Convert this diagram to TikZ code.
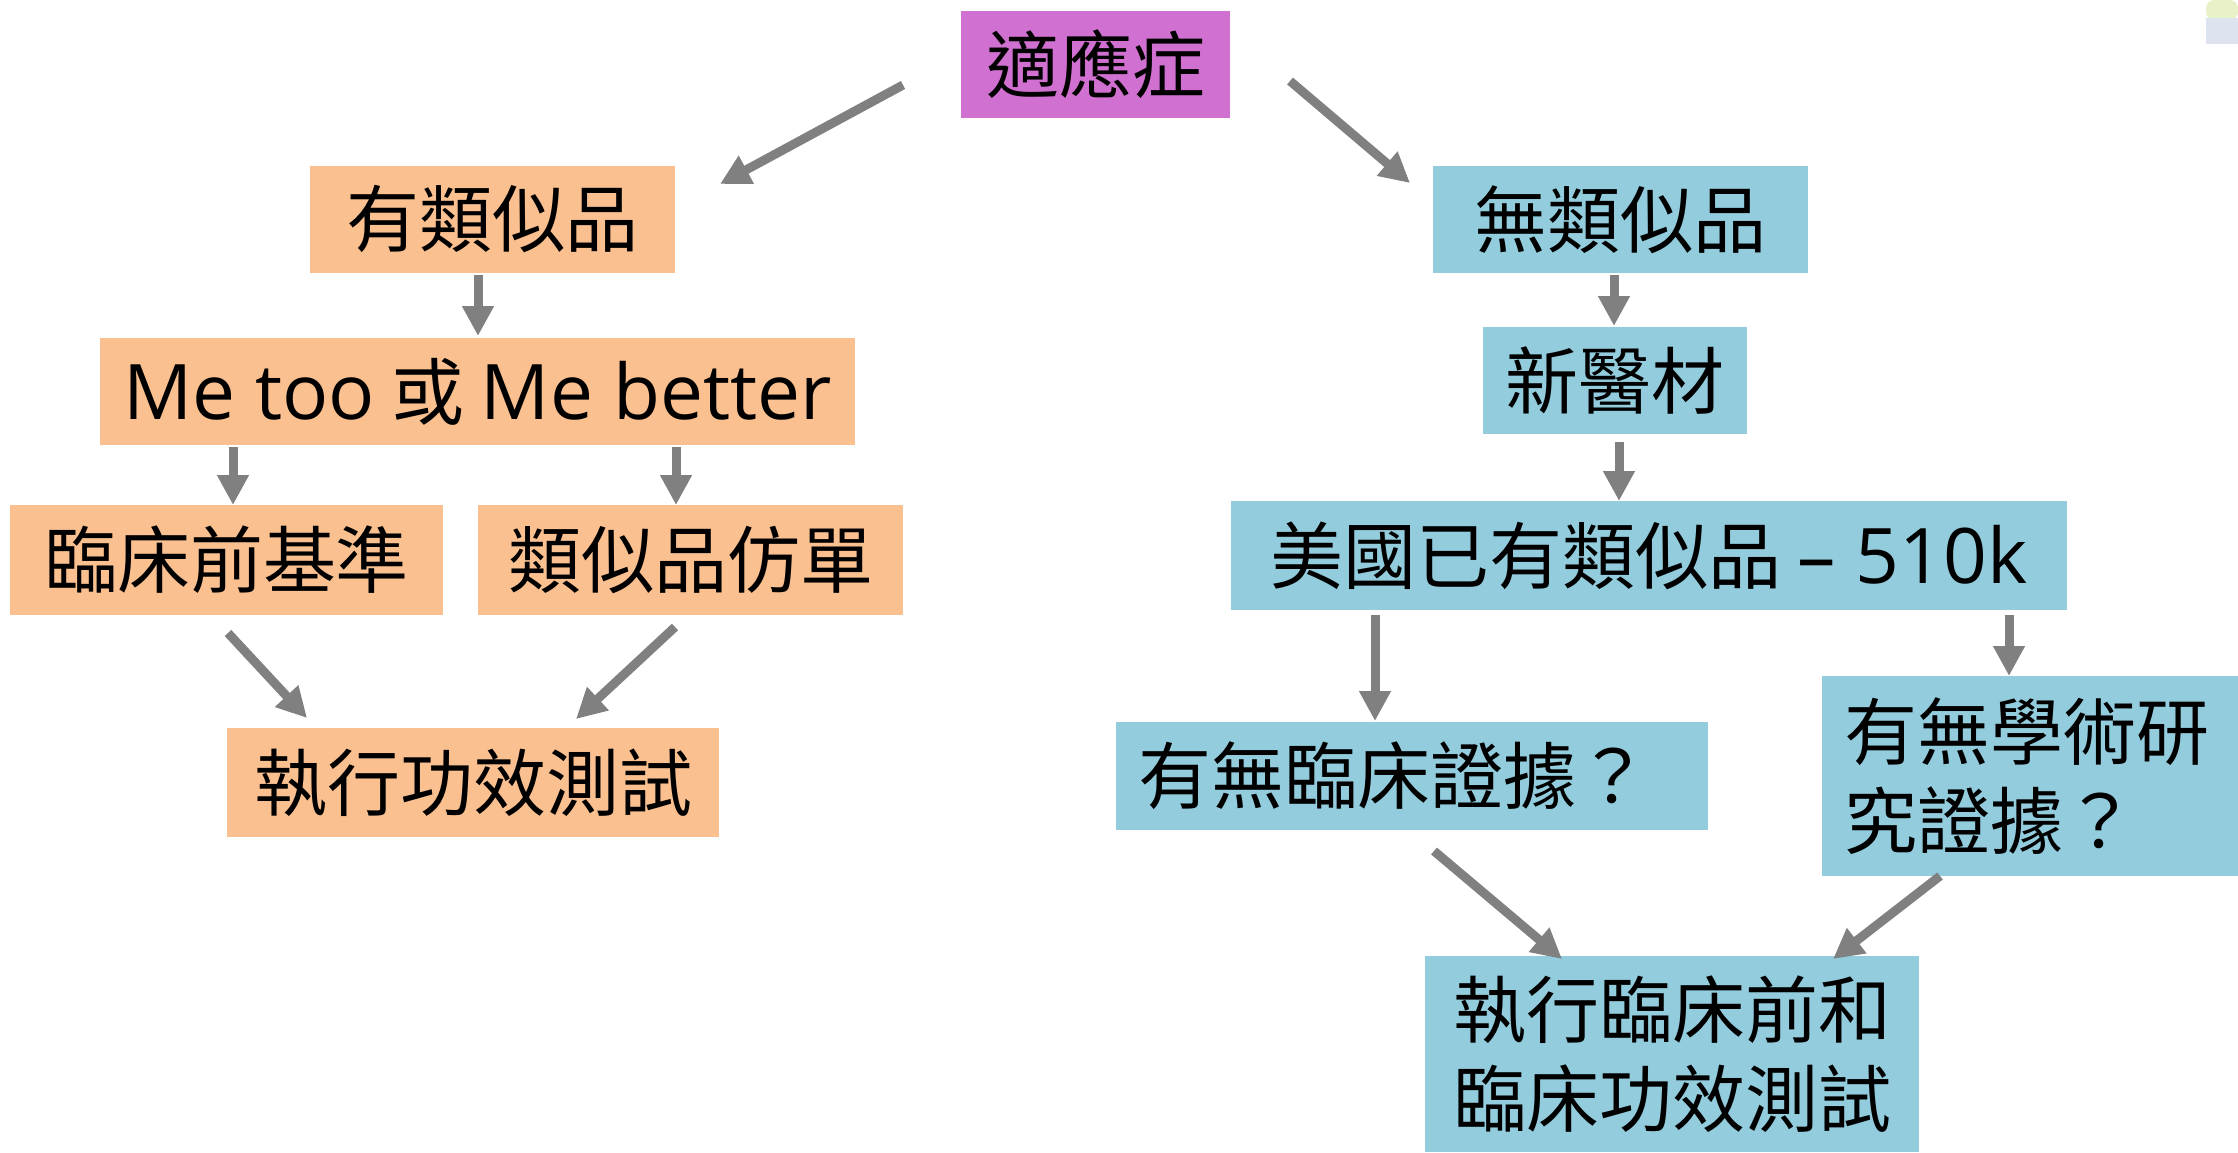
\documentclass[tikz,border=0pt]{standalone}
\usepackage{fontspec}
\setmainfont{Noto Sans CJK TC}
\newfontfamily\lat{Open Sans}[Scale=1.05]
\usetikzlibrary{arrows.meta}
\definecolor{orangebox}{HTML}{FAC090}
\definecolor{bluebox}{HTML}{93CDDD}
\definecolor{purplebox}{HTML}{D070D0}
\definecolor{arrowgray}{HTML}{808080}
\definecolor{decogreen}{HTML}{E8F2C8}
\definecolor{decoblue}{HTML}{DDE4F0}
\begin{document}
\begin{tikzpicture}[x=0.5pt,y=-0.5pt,
  box/.style={inner sep=0pt, outer sep=0pt, font=\fontsize{36.5}{44.5}\selectfont, align=center},
  obox/.style={box, fill=orangebox},
  bbox/.style={box, fill=bluebox},
  arr/.style={draw=arrowgray, line width=4.5pt, -{Triangle[width=15pt,length=15pt]}}]
\useasboundingbox (0,0) rectangle (2238,1152);
% faint corner decoration
\fill[decogreen, rounded corners=4pt] (2206,0) rectangle (2238,20);
\fill[decoblue] (2206,18) rectangle (2238,44);
% left branch
\node[box, fill=purplebox, minimum width=134.5pt, minimum height=53.5pt] (ind) at (1095.5,64.5) {適應症};
\node[obox, minimum width=182.5pt, minimum height=53.5pt] (yes) at (492.5,219.5) {有類似品};
\node[obox, minimum width=377.5pt, minimum height=53.5pt] (me) at (477.5,391.5) {{\lat Me too} 或 {\lat Me better}};
\node[obox, minimum width=216.5pt, minimum height=55pt] (pre) at (226.5,560) {臨床前基準};
\node[obox, minimum width=212.5pt, minimum height=55pt] (lab) at (690.5,560) {類似品仿單};
\node[obox, minimum width=246pt, minimum height=54.5pt] (exe) at (473,782.5) {執行功效測試};
% right branch
\node[bbox, minimum width=187.5pt, minimum height=53.5pt] (no) at (1620.5,219.5) {無類似品};
\node[bbox, minimum width=132pt, minimum height=53.5pt] (new) at (1615,380.5) {新醫材};
\node[bbox, minimum width=418pt, minimum height=54.5pt] (us) at (1649,555.5) {美國已有類似品 {\lat – 510k}};
\node[bbox, minimum width=296pt, minimum height=54pt, text width=274pt, align=left] (clin) at (1412,776) {有無臨床證據？};
\node[bbox, minimum width=208pt, minimum height=100pt, text width=186pt, align=left] (acad) at (2030,776) {有無學術研\\究證據？};
\node[bbox, minimum width=247pt, minimum height=98pt] (exe2) at (1672,1054) {執行臨床前和\\臨床功效測試};
% arrows
\draw[arr] ([shift={(-58,20.5)}]ind.west) -- ([shift={(45,18)}]yes.north east);
\draw[arr] ([shift={(60,16.5)}]ind.east) -- ([shift={(-23,17)}]no.north west);
\draw[arr] ([shift={(-14.5,2)}]yes.south) -- ([shift={(0.5,-2)}]me.north);
\draw[arr] ([shift={(133,2)}]me.south west) -- ([shift={(6.5,0)}]pre.north);
\draw[arr] ([shift={(-179,2)}]me.south east) -- ([shift={(-14.5,0)}]lab.north);
\draw[arr] ([shift={(1.5,18)}]pre.south) -- ([shift={(80,-10)}]exe.north west);
\draw[arr] ([shift={(-15.5,12)}]lab.south) -- ([shift={(-143,-9)}]exe.north east);
\draw[arr] ([shift={(-6.5,2)}]no.south) -- ([shift={(-1,-1)}]new.north);
\draw[arr] ([shift={(4,8)}]new.south) -- ([shift={(-30,0)}]us.north);
\draw[arr] ([shift={(144,5)}]us.south west) -- ([shift={(-37,-1)}]clin.north);
\draw[arr] ([shift={(-58,5)}]us.south east) -- ([shift={(-21,0)}]acad.north);
\draw[arr] ([shift={(22,21)}]clin.south) -- ([shift={(137,3)}]exe2.north west);
\draw[arr] ([shift={(-90,0)}]acad.south) -- ([shift={(-86,3)}]exe2.north east);
\end{tikzpicture}
\end{document}
